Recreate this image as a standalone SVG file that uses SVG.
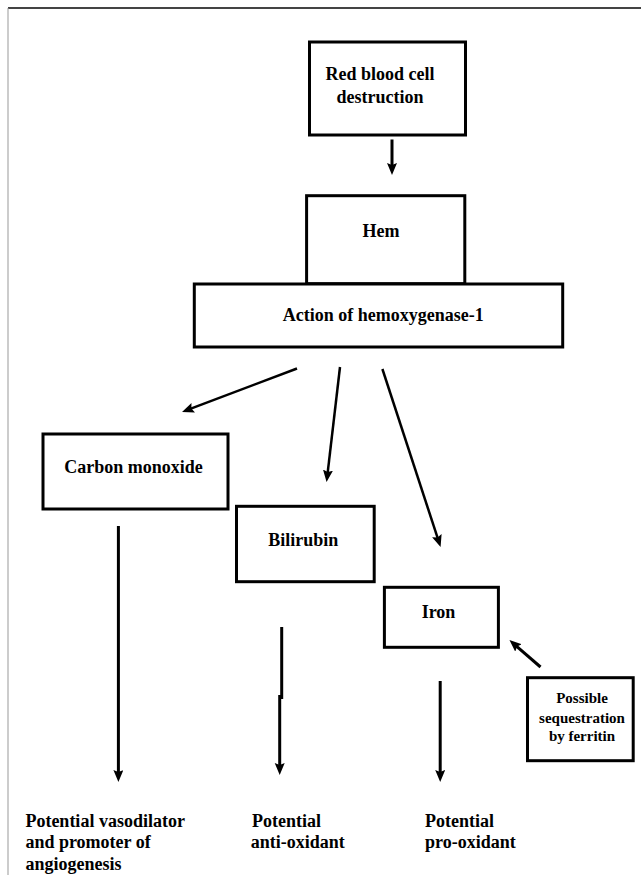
<svg xmlns="http://www.w3.org/2000/svg" width="641" height="875" viewBox="0 0 641 875">
<style>
.box{fill:#fff;stroke:#000;stroke-width:3}
.t{font-family:"Liberation Serif","Times New Roman",serif;font-weight:bold;font-size:18px;fill:#000}
.c{text-anchor:middle}
.s{font-size:15px}
.ar{fill:none;stroke:#000;stroke-width:3;marker-end:url(#ah)}
.ad{stroke-width:2.5}
</style>
<defs>
<marker id="ah" markerUnits="userSpaceOnUse" markerWidth="14" markerHeight="12" refX="4" refY="5" orient="auto">
<path d="M0,0 L12,5 L0,10 L2,5 z" fill="#000"/>
</marker>
</defs>
<rect width="641" height="875" fill="#fff"/>
<line x1="8" y1="8" x2="641" y2="8" stroke="#444" stroke-width="2"/>
<line x1="8" y1="8" x2="8" y2="875" stroke="#999" stroke-width="1"/>

<g id="connectors">
<line class="ar" x1="392" y1="139.5" x2="392" y2="167"/>
<line class="ar ad" x1="297" y1="368.5" x2="189.5" y2="409.2"/>
<line class="ar ad" x1="340" y1="367" x2="327.5" y2="474.1"/>
<line class="ar ad" x1="382.4" y1="369" x2="438.1" y2="539.4"/>
<line class="ar" x1="118.4" y1="526" x2="118.4" y2="774"/>
<path d="M281.7,627 V699" fill="none" stroke="#000" stroke-width="3"/>
<path class="ar" d="M279.7,695 V767"/>
<line class="ar" x1="440.2" y1="681" x2="440.2" y2="774"/>
<line class="ar" x1="540.5" y1="667" x2="515.5" y2="645.3"/>
</g>

<g id="rbc">
<rect class="box" x="309.5" y="42" width="156" height="93"/>
<text class="t c" x="380" y="80">Red blood cell</text>
<text class="t c" x="380" y="102.7">destruction</text>
</g>

<g id="hem">
<rect class="box" x="306.6" y="195.7" width="158.2" height="88"/>
<text class="t c" x="381" y="237">Hem</text>
</g>

<g id="ho1">
<rect class="box" x="194.3" y="284" width="368.4" height="63"/>
<text class="t c" x="383.2" y="320.7">Action of hemoxygenase-1</text>
</g>

<g id="co">
<rect class="box" x="43" y="434" width="185" height="75"/>
<text class="t c" x="133.4" y="473.3">Carbon monoxide</text>
</g>

<g id="bilirubin">
<rect class="box" x="236.5" y="506.3" width="137.7" height="75.4"/>
<text class="t c" x="303.3" y="546">Bilirubin</text>
</g>

<g id="iron">
<rect class="box" x="384.4" y="587.3" width="114" height="60"/>
<text class="t c" x="438.5" y="618">Iron</text>
</g>

<g id="ferritin">
<rect class="box" x="527.5" y="677.7" width="105.7" height="83"/>
<text class="t c s" x="582" y="702.7">Possible</text>
<text class="t c s" x="582" y="722.7">sequestration</text>
<text class="t c s" x="582" y="741">by ferritin</text>
</g>

<g id="out-co">
<text class="t" x="25.4" y="826.7">Potential vasodilator</text>
<text class="t" x="25.4" y="847.7">and promoter of</text>
<text class="t" x="25.4" y="870">angiogenesis</text>
</g>

<g id="out-bili">
<text class="t" x="252" y="826.7">Potential</text>
<text class="t" x="250.8" y="847.7">anti-oxidant</text>
</g>

<g id="out-iron">
<text class="t" x="425" y="826.7">Potential</text>
<text class="t" x="425" y="847.7">pro-oxidant</text>
</g>
</svg>
